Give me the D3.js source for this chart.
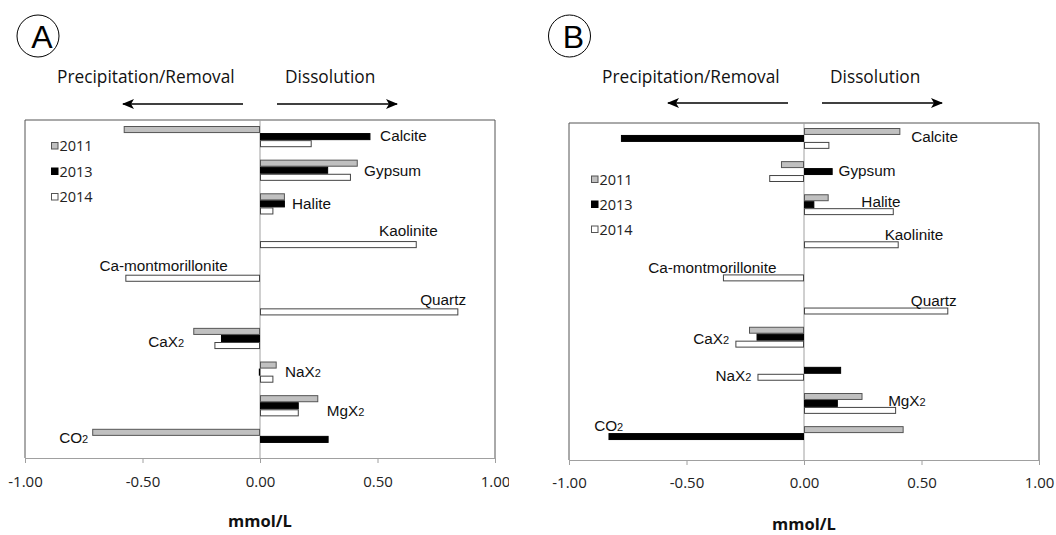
<!DOCTYPE html>
<html>
<head>
<meta charset="utf-8">
<script src="https://cdn.jsdelivr.net/npm/d3@7"></script>
<style>
  html, body { margin: 0; padding: 0; background: #fff; }
  svg { display: block; }
</style>
</head>
<body>
<svg id="chart" width="1056" height="535"></svg>
<script>
// ---------------- DATA ----------------
const categories = ["Calcite", "Gypsum", "Halite", "Kaolinite", "Ca-montmorillonite",
                    "Quartz", "CaX2", "NaX2", "MgX2", "CO2"];
const years = ["2011", "2013", "2014"];
const xTicks = [-1, -0.5, 0, 0.5, 1];

// Panel A (mmol/L)
const panelA_2011 = [-0.58, 0.416, 0.106, 0, 0, 0, -0.284, 0.071, 0.248, -0.714];
const panelA_2013 = [0.47, 0.29, 0.106, 0, 0, 0, -0.166, -0.005, 0.165, 0.292];
const panelA_2014 = [0.22, 0.387, 0.057, 0.667, -0.573, 0.844, -0.194, 0.057, 0.165, 0];

// Panel B (mmol/L)
const panelB_2011 = [0.41, -0.098, 0.105, 0, 0, 0, -0.234, 0, 0.249, 0.424];
const panelB_2013 = [-0.779, 0.122, 0.044, 0, 0, 0, -0.202, 0.158, 0.144, -0.832];
const panelB_2014 = [0.108, -0.148, 0.382, 0.403, -0.345, 0.614, -0.292, -0.198, 0.392, 0];

const headerLeft = "Precipitation/Removal";
const headerRight = "Dissolution";
const axisTitle = "mmol/L";

// ---------------- STYLE / LAYOUT ----------------
const yearStyle = {
  "2011": { fill: "#c0c0c0", stroke: "#555" },
  "2013": { fill: "#000", stroke: "#000" },
  "2014": { fill: "#fff", stroke: "#444" }
};

// label anchors: x in data units, dy = px offset of text centre from group top
const labelLayoutA = [
  { x: 0.511, dy: 10, anchor: "start" },
  { x: 0.443, dy: 11, anchor: "start" },
  { x: 0.136, dy: 10, anchor: "start" },
  { x: 0.756, dy: 4, anchor: "end" },
  { x: -0.137, dy: 5, anchor: "end" },
  { x: 0.877, dy: 5, anchor: "end" },
  { x: -0.323, dy: 14, anchor: "end" },
  { x: 0.106, dy: 10, anchor: "start" },
  { x: 0.284, dy: 15, anchor: "start" },
  { x: -0.731, dy: 9, anchor: "end" }
];
const labelLayoutB = [
  { x: 0.456, dy: 9, anchor: "start" },
  { x: 0.147, dy: 9, anchor: "start" },
  { x: 0.244, dy: 7.5, anchor: "start" },
  { x: 0.593, dy: 7, anchor: "end" },
  { x: -0.117, dy: 7, anchor: "end" },
  { x: 0.65, dy: 7, anchor: "end" },
  { x: -0.319, dy: 11.5, anchor: "end" },
  { x: -0.224, dy: 16, anchor: "end" },
  { x: 0.358, dy: 7.5, anchor: "start" },
  { x: -0.893, dy: -1, anchor: "start" }
];

const panels = [
  {
    letter: "A", circle: { cx: 38, cy: 36 },
    box: { left: 25, right: 495, top: 120, bottom: 458 },
    barTop: 6, barBottom: 330,
    series: [panelA_2011, panelA_2013, panelA_2014],
    labels: labelLayoutA,
    legend: { x: 51, y: 146, gap: 25.5 },
    header: { leftText: 57, rightText: 285, y: 83,
              arrowL: [243, 123], arrowR: [277, 397], arrowY: 104 },
    tickBaseline: 487, titleBaseline: 527,
    clipLeft: 0, clipRight: 509
  },
  {
    letter: "B", circle: { cx: 569.5, cy: 36 },
    box: { left: 569, right: 1039, top: 123, bottom: 460 },
    barTop: 5, barBottom: 324,
    series: [panelB_2011, panelB_2013, panelB_2014],
    labels: labelLayoutB,
    legend: { x: 591, y: 179.5, gap: 25 },
    header: { leftText: 602, rightText: 830, y: 83,
              arrowL: [788, 668], arrowR: [822, 942], arrowY: 103 },
    tickBaseline: 488, titleBaseline: 530,
    clipLeft: 528, clipRight: 1056
  }
];

const svg = d3.select("#chart");
const defs = svg.append("defs");
defs.append("marker")
  .attr("id", "arrowhead")
  .attr("viewBox", "0 0 12 10")
  .attr("refX", 11).attr("refY", 5)
  .attr("markerWidth", 13).attr("markerHeight", 10)
  .attr("markerUnits", "userSpaceOnUse")
  .attr("orient", "auto")
  .append("path")
  .attr("d", "M0,0 L12,5 L0,10 L3,5 Z")
  .attr("fill", "#000");

const labelFont = "'Liberation Sans', Arial, sans-serif";
const uiFont = "'Open Sans', 'Noto Sans', sans-serif";
const fmt = d3.format(".2f");

function drawLabel(g, text, x, yCenter, anchor) {
  const m = text.match(/^(.*?)(\d)$/);
  const t = g.append("text")
    .attr("x", x).attr("y", yCenter + 5.4)
    .attr("text-anchor", anchor)
    .attr("font-family", labelFont)
    .attr("font-size", 15.3)
    .attr("fill", "#111");
  if (m) {
    t.append("tspan").text(m[1]);
    t.append("tspan").attr("font-size", 11).text(m[2]);
  } else {
    t.text(text);
  }
}

panels.forEach((p, pi) => {
  const clipId = "clip" + pi;
  defs.append("clipPath").attr("id", clipId)
    .append("rect").attr("x", p.clipLeft).attr("y", 0)
    .attr("width", p.clipRight - p.clipLeft).attr("height", 535);

  const g = svg.append("g").attr("clip-path", `url(#${clipId})`);
  const b = p.box;

  const x = d3.scaleLinear().domain([-1, 1]).range([b.left, b.right]);
  const y = d3.scaleBand().domain(categories)
    .range([b.top + p.barTop, b.top + p.barBottom])
    .paddingInner(0.37).paddingOuter(0);
  const ySub = d3.scaleBand().domain(years).range([0, y.bandwidth()]);

  // header: circle letter
  g.append("circle")
    .attr("cx", p.circle.cx).attr("cy", p.circle.cy).attr("r", 21)
    .attr("fill", "none").attr("stroke", "#000").attr("stroke-width", 1);
  g.append("text")
    .attr("x", p.circle.cx + 4).attr("y", p.circle.cy + 12.3)
    .attr("text-anchor", "middle")
    .attr("font-family", labelFont).attr("font-size", 32)
    .attr("fill", "#000").text(p.letter);

  // header texts + arrows
  g.append("text").attr("x", p.header.leftText).attr("y", p.header.y)
    .attr("font-family", uiFont).attr("font-size", 17.3).attr("fill", "#111")
    .text(headerLeft);
  g.append("text").attr("x", p.header.rightText).attr("y", p.header.y)
    .attr("font-family", uiFont).attr("font-size", 17.3).attr("fill", "#111")
    .text(headerRight);
  [p.header.arrowL, p.header.arrowR].forEach(a => {
    g.append("line")
      .attr("x1", a[0]).attr("x2", a[1])
      .attr("y1", p.header.arrowY).attr("y2", p.header.arrowY)
      .attr("stroke", "#000").attr("stroke-width", 1.5)
      .attr("marker-end", "url(#arrowhead)");
  });

  // frame
  g.append("path")
    .attr("d", `M${b.left},${b.bottom} V${b.top} H${b.right} V${b.bottom}`)
    .attr("fill", "none").attr("stroke", "#555").attr("stroke-width", 1);

  // x axis
  const axis = d3.axisBottom(x).tickValues(xTicks)
    .tickSize(5).tickSizeOuter(0)
    .tickFormat(d => fmt(d).replace("\u2212", "-"));
  const ax = g.append("g").attr("transform", `translate(0,${b.bottom})`).call(axis);
  ax.select(".domain").attr("stroke", "#a0a0a0");
  ax.selectAll(".tick line").attr("stroke", "#a0a0a0");
  ax.selectAll(".tick text")
    .attr("font-family", uiFont).attr("font-size", 15)
    .attr("fill", "#222")
    .attr("dy", null)
    .attr("y", p.tickBaseline - b.bottom);

  // zero line
  g.append("line")
    .attr("x1", x(0)).attr("x2", x(0))
    .attr("y1", b.top).attr("y2", b.bottom)
    .attr("stroke", "#a0a0a0").attr("stroke-width", 1);

  // bars
  years.forEach((yr, si) => {
    const vals = p.series[si];
    g.append("g").selectAll("rect")
      .data(categories.map((c, i) => ({ c, v: vals[i] })).filter(d => d.v !== 0))
      .join("rect")
      .attr("x", d => Math.min(x(0), x(d.v)) + 0.5)
      .attr("y", d => y(d.c) + ySub(yr) + 0.5)
      .attr("width", d => Math.max(0.5, Math.abs(x(d.v) - x(0)) - 1))
      .attr("height", ySub.bandwidth() - 1)
      .attr("fill", yearStyle[yr].fill)
      .attr("stroke", yearStyle[yr].stroke)
      .attr("stroke-width", 1);
  });

  // category labels
  categories.forEach((c, i) => {
    const L = p.labels[i];
    drawLabel(g, c, x(L.x), y(c) + L.dy, L.anchor);
  });

  // legend
  years.forEach((yr, si) => {
    const ly = p.legend.y + si * p.legend.gap;
    g.append("rect")
      .attr("x", p.legend.x + 0.5).attr("y", ly - 3.5)
      .attr("width", 6.5).attr("height", 6.5)
      .attr("fill", yearStyle[yr].fill)
      .attr("stroke", yr === "2013" ? "#000" : "#555").attr("stroke-width", 1);
    g.append("text")
      .attr("x", p.legend.x + 8.5).attr("y", ly + 5)
      .attr("font-family", uiFont).attr("font-size", 14.5)
      .attr("fill", "#222").text(yr);
  });

  // axis title
  g.append("text")
    .attr("x", x(0)).attr("y", p.titleBaseline)
    .attr("text-anchor", "middle")
    .attr("font-family", uiFont).attr("font-size", 16.5).attr("font-weight", "bold")
    .attr("fill", "#111").text(axisTitle);
});
</script>
</body>
</html>
